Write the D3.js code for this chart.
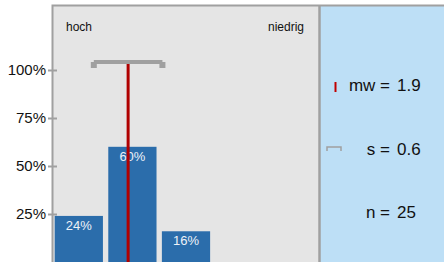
<!DOCTYPE html>
<html>
<head>
<meta charset="utf-8">
<script src="https://cdnjs.cloudflare.com/ajax/libs/d3/7.8.5/d3.min.js"></script>
<style>
  body { margin: 0; background: #fff; }
  svg { display: block; }
</style>
</head>
<body>
<div id="chart"></div>
<script>
// antwort-kategorien (1 = hoch ... 5 = niedrig)
var categories = [1, 2, 3, 4, 5];
var percents = [0.24, 0.60, 0.16, 0, 0];
var yTicks = [0.25, 0.5, 0.75, 1];
var stats_mw = 1.92;
var stats_s = 0.64;
var stats_n = 25;

var width = 444, height = 262;

var svg = d3.select("#chart")
    .append("svg")
    .attr("width", width)
    .attr("height", height)
    .style("font-family", "Liberation Sans, Arial, sans-serif");

var x = d3.scaleBand()
    .domain(categories)
    .range([52, 320])
    .paddingInner(0.1)
    .paddingOuter(0.05);

// stetige skala fuer mittelwert / streuung
var xv = d3.scaleLinear()
    .domain([1, 5])
    .range([x(1) + x.bandwidth() / 2, x(5) + x.bandwidth() / 2]);

var y = d3.scaleLinear()
    .domain([0, 1])
    .range([262, 70]);

// hintergrund
svg.append("rect")
    .attr("x", 52).attr("y", 5)
    .attr("width", 268).attr("height", 260)
    .attr("fill", "#e5e5e5");

svg.append("rect")
    .attr("x", 320).attr("y", 5)
    .attr("width", 130).attr("height", 260)
    .attr("fill", "#bddff6");

svg.append("path")
    .attr("d", "M52.5,265V5.5H444")
    .attr("fill", "none")
    .attr("stroke", "#a0a0a0")
    .attr("stroke-width", 2);

svg.append("line")
    .attr("x1", 319.5).attr("x2", 319.5)
    .attr("y1", 5).attr("y2", 262)
    .attr("stroke", "#a0a0a0")
    .attr("stroke-width", 2.5);

// y achse
var yAxis = svg.append("g")
    .attr("transform", "translate(57,0)")
    .call(d3.axisLeft(y).tickValues(yTicks).tickSize(9).tickFormat(d3.format(".0%")));
yAxis.select(".domain").remove();
yAxis.selectAll(".tick line")
    .attr("stroke", "#a0a0a0")
    .attr("stroke-width", 2);
yAxis.selectAll(".tick text")
    .attr("x", -11)
    .attr("font-size", 15)
    .attr("font-family", "Liberation Sans, Arial, sans-serif")
    .attr("fill", "#111");

svg.append("text")
    .attr("x", 66).attr("y", 31)
    .text("hoch")
    .attr("font-size", 12)
    .attr("fill", "#111");

svg.append("text")
    .attr("x", 304).attr("y", 31)
    .text("niedrig")
    .attr("text-anchor", "end")
    .attr("font-size", 12)
    .attr("fill", "#111");

// balken
var data = categories.map(function(c, i) { return {cat: c, p: percents[i]}; })
    .filter(function(d) { return d.p > 0; });

svg.selectAll(".bar")
    .data(data)
    .enter()
    .append("rect")
    .attr("class", "bar")
    .attr("x", function(d) { return x(d.cat); })
    .attr("y", function(d) { return y(d.p); })
    .attr("width", x.bandwidth())
    .attr("height", function(d) { return y(0) - y(d.p); })
    .attr("fill", "#2b6dab");

svg.selectAll(".lbl")
    .data(data)
    .enter()
    .append("text")
    .attr("class", "lbl")
    .attr("x", function(d) { return x(d.cat) + x.bandwidth() / 2; })
    .attr("y", function(d) { return y(d.p) + 14; })
    .text(function(d) { return Math.round(d.p * 100) + "%"; })
    .attr("text-anchor", "middle")
    .attr("font-size", 13)
    .attr("fill", "#eef2f8");

// mittelwert
svg.append("line")
    .attr("x1", xv(stats_mw)).attr("x2", xv(stats_mw))
    .attr("y1", 64).attr("y2", 262)
    .attr("stroke", "#b00000")
    .attr("stroke-width", 3);

// standardabweichung
var s0 = xv(stats_mw - stats_s), s1 = xv(stats_mw + stats_s);
svg.append("line")
    .attr("x1", s0).attr("x2", s1)
    .attr("y1", 62).attr("y2", 62)
    .attr("stroke", "#a0a0a0")
    .attr("stroke-width", 4);
svg.selectAll(".cap")
    .data([s0, s1])
    .enter()
    .append("rect")
    .attr("class", "cap")
    .attr("x", function(d) { return d - 3; })
    .attr("y", 62)
    .attr("width", 6)
    .attr("height", 6)
    .attr("fill", "#a0a0a0");

// legende
svg.append("line")
    .attr("x1", 335.5).attr("x2", 335.5)
    .attr("y1", 82).attr("y2", 92)
    .attr("stroke", "#c00000")
    .attr("stroke-width", 2);

svg.append("path")
    .attr("d", "M327,151V147H341V151")
    .attr("fill", "none")
    .attr("stroke", "#a0a0a0")
    .attr("stroke-width", 1.5);

var legend = [
    {label: "mw =", value: d3.format(".1f")(stats_mw), y: 91},
    {label: "s =", value: d3.format(".1f")(stats_s), y: 155},
    {label: "n =", value: stats_n, y: 218}
];

svg.selectAll(".leglabel")
    .data(legend)
    .enter()
    .append("text")
    .attr("class", "leglabel")
    .attr("x", 390)
    .attr("y", function(d) { return d.y; })
    .text(function(d) { return d.label; })
    .attr("text-anchor", "end")
    .attr("font-size", 17)
    .attr("fill", "#111");

svg.selectAll(".legvalue")
    .data(legend)
    .enter()
    .append("text")
    .attr("class", "legvalue")
    .attr("x", 397)
    .attr("y", function(d) { return d.y; })
    .text(function(d) { return d.value; })
    .attr("font-size", 17)
    .attr("fill", "#111");
</script>
</body>
</html>
